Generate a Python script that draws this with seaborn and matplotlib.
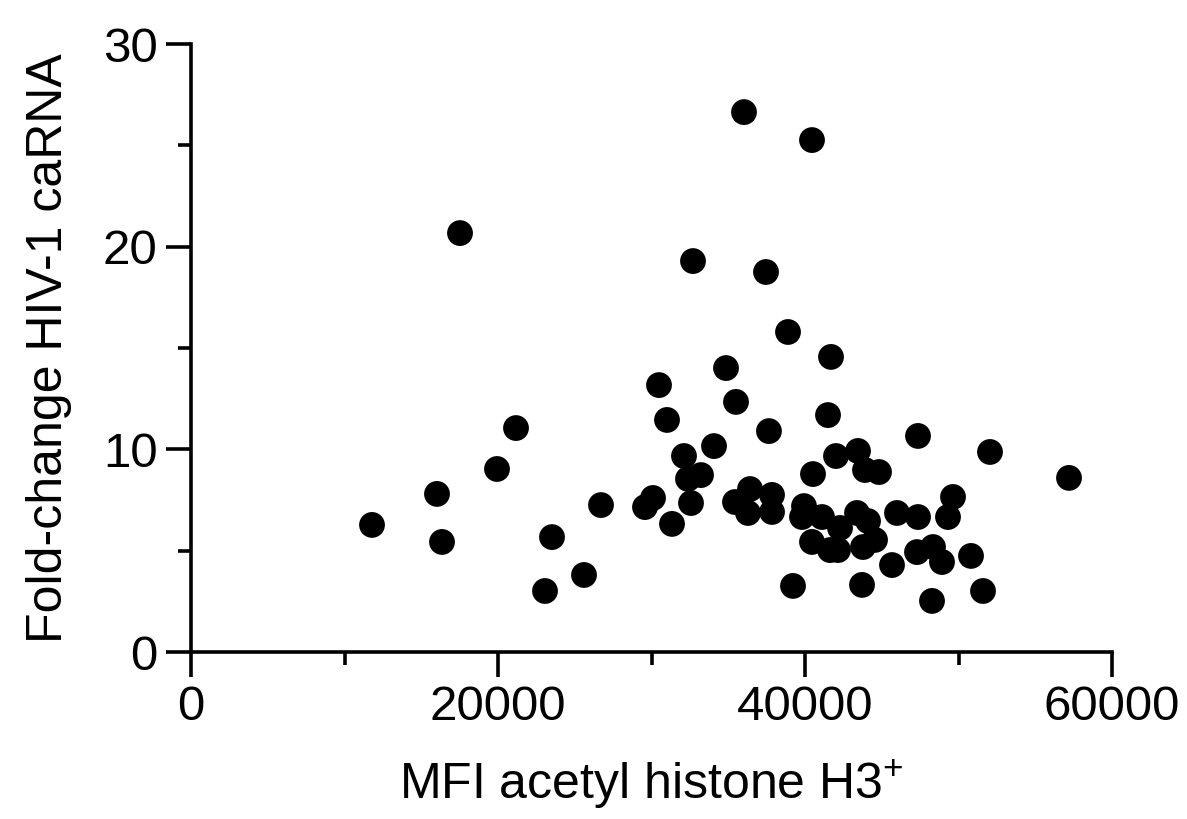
import matplotlib
matplotlib.use("Agg")
import matplotlib.pyplot as plt
import seaborn as sns
import pandas as pd
from matplotlib.ticker import MultipleLocator

mfi = [11792, 16026, 16352, 17525, 19935, 21173, 23062, 23518, 25603, 26710,
       29577, 30098, 30489, 31010, 31336, 32117, 32378, 33225, 32574, 32704,
       34072, 34854, 35505, 35440, 36417, 36287, 36026, 37460, 37652, 37850,
       37850, 38893, 39218, 39935, 39805, 40456, 40521, 40456, 41108, 41499,
       41694, 42020, 42280, 41629, 42150, 43453, 43388, 43714, 43779, 43909,
       44105, 44561, 44821, 45668, 45994, 47297, 47362, 47362, 48274, 48339,
       48925, 49316, 49642, 50815, 51597, 52052, 57199]
fold_change = [6.27, 7.80, 5.43, 20.67, 9.03, 11.05, 3.01, 5.67, 3.80, 7.25,
               7.15, 7.60, 13.17, 11.45, 6.32, 9.67, 8.54, 8.73, 7.35, 19.29,
               10.16, 14.01, 12.34, 7.40, 8.04, 6.86, 26.64, 18.75, 10.90, 7.75,
               6.91, 15.79, 3.26, 7.20, 6.66, 25.26, 8.78, 5.43, 6.66, 11.69,
               14.56, 9.67, 6.12, 5.03, 5.03, 9.92, 6.86, 3.31, 5.18, 8.98,
               6.46, 5.53, 8.88, 4.29, 6.86, 4.93, 10.66, 6.66, 2.52, 5.18,
               4.44, 6.66, 7.65, 4.74, 3.01, 9.87, 8.59]

x_ticks = [0, 20000, 40000, 60000]
y_ticks = [0, 10, 20, 30]

df = pd.DataFrame({"mfi": mfi, "fc": fold_change})

sns.set_style("ticks")
plt.rcParams["font.family"] = ["Liberation Sans", "DejaVu Sans"]
plt.rcParams["mathtext.fontset"] = "custom"
plt.rcParams["mathtext.rm"] = "Liberation Sans"
plt.rcParams["text.color"] = "black"
plt.rcParams["axes.labelcolor"] = "black"

fig = plt.figure(figsize=(11.87, 8.19), dpi=100)
ax = fig.add_axes([191/1187, 1 - 652/819, (1112-191)/1187, (652-44)/819])

sns.scatterplot(data=df, x="mfi", y="fc", ax=ax, s=345, color="black",
                edgecolor="none", linewidth=0, clip_on=False, legend=False)

ax.set_xlim(0, 60000)
ax.set_ylim(0, 30)
ax.set_xticks(x_ticks)
ax.set_yticks(y_ticks)
ax.xaxis.set_minor_locator(MultipleLocator(10000))
ax.yaxis.set_minor_locator(MultipleLocator(5))

for s in ["top", "right"]:
    ax.spines[s].set_visible(False)
for s in ["left", "bottom"]:
    ax.spines[s].set_linewidth(2.6)
    ax.spines[s].set_color("black")

ax.tick_params(axis="both", which="major", length=18, width=2.6, labelsize=35.5,
               color="black", labelcolor="black", pad=6)
ax.tick_params(axis="both", which="minor", length=9.5, width=2.6, color="black")

ax.set_xlabel(r"MFI acetyl histone H3$^{\mathregular{+}}$", fontsize=36, labelpad=20)
ax.set_ylabel("Fold-change HIV-1 caRNA", fontsize=36, labelpad=22)

fig.savefig("out.png", dpi=100)
